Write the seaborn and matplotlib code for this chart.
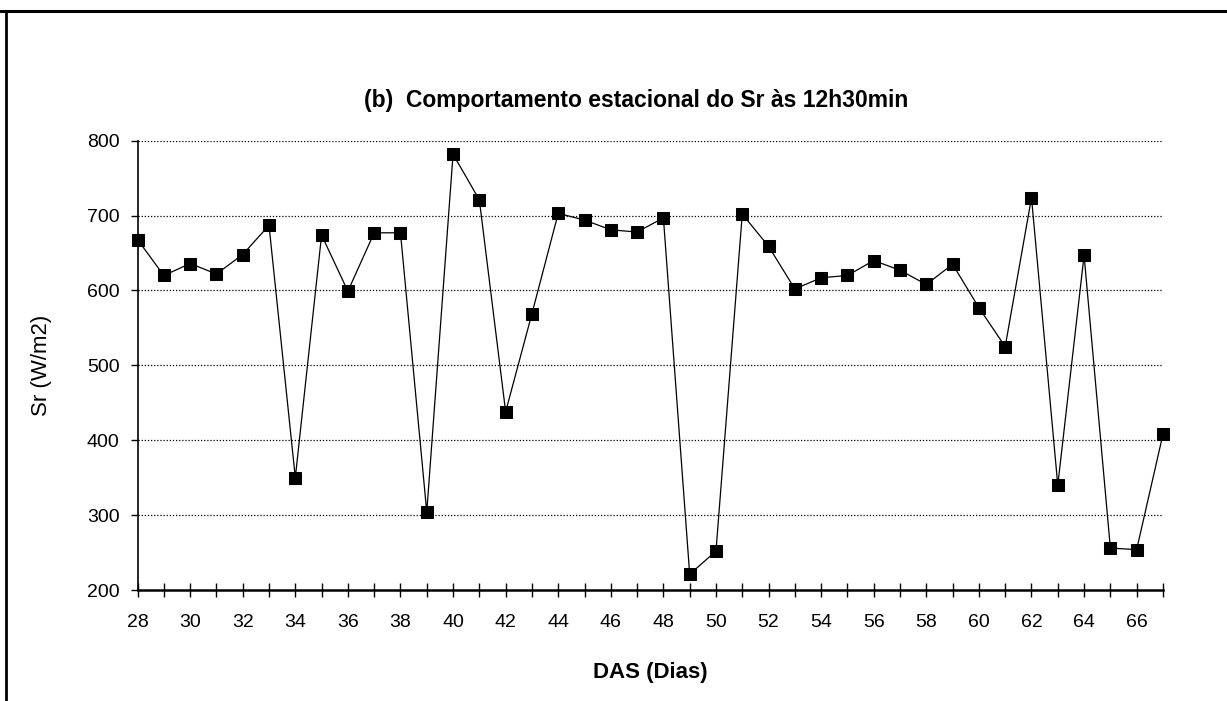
import matplotlib
matplotlib.use("Agg")
import matplotlib.pyplot as plt
from matplotlib.lines import Line2D
from matplotlib.ticker import MultipleLocator
import seaborn as sns
import pandas as pd

# ---- data ----
das = list(range(28, 68))
sr = [668, 620, 636, 622, 648, 687, 350, 674, 599, 677,
      677, 304, 782, 721, 438, 569, 703, 694, 681, 678,
      697, 221, 252, 702, 659, 602, 617, 620, 640, 627,
      608, 635, 577, 525, 724, 340, 647, 256, 254, 408]
title = "(b)  Comportamento estacional do Sr às 12h30min"
xlabel = "DAS (Dias)"
ylabel = "Sr (W/m2)"
yticks = [200, 300, 400, 500, 600, 700, 800]
xticks = list(range(28, 67, 2))

df = pd.DataFrame({"DAS": das, "Sr": sr})

sns.set_style("white", {"text.color": "black", "axes.labelcolor": "black",
                        "xtick.color": "black", "ytick.color": "black"})
plt.rcParams["font.family"] = ["Liberation Sans", "DejaVu Sans"]

fig = plt.figure(figsize=(12.27, 7.01), dpi=100)
ax = fig.add_axes([0.1121, 0.1583, 0.8357, 0.641])

sns.lineplot(data=df, x="DAS", y="Sr", ax=ax, color="black", linewidth=0.9,
             marker="s", markersize=9, markerfacecolor="black",
             markeredgecolor="black", clip_on=False, zorder=5)

ax.set_xlim(28, 67)
ax.set_ylim(200, 800)
ax.set_yticks(yticks)
ax.set_xticks(xticks)
ax.xaxis.set_minor_locator(MultipleLocator(1))

for y in yticks[1:]:
    ax.axhline(y, color="black", linestyle=(0, (1, 1.5)), linewidth=0.9, zorder=0)

for s in ["top", "right"]:
    ax.spines[s].set_visible(False)
ax.spines["left"].set_color("black")
ax.spines["left"].set_linewidth(1.2)
ax.spines["bottom"].set_color("black")
ax.spines["bottom"].set_linewidth(1.8)

ax.tick_params(axis="x", which="both", direction="inout", length=10, width=1,
               color="black", labelcolor="black", pad=12, labelsize=14, bottom=True)
ax.tick_params(axis="x", which="minor", labelbottom=False)
ax.tick_params(axis="y", which="major", direction="out", length=5, width=1,
               color="black", labelcolor="black", pad=8, labelsize=14, left=True)

ax.set_xlabel(xlabel, fontsize=16, fontweight="bold", color="black")
ax.set_ylabel(ylabel, fontsize=16, color="black")
ax.xaxis.set_label_coords(0.5, -0.16)
ax.yaxis.set_label_coords(-0.083, 0.5)

fig.text(0.5185, 0.856, title, ha="center", va="center", fontsize=16.5,
         fontweight="bold", color="black")

# outer frame (top and left edges of the scanned figure box)
fig.add_artist(Line2D([0, 1], [1 - 11 / 701, 1 - 11 / 701], transform=fig.transFigure,
                      color="black", linewidth=2.2))
fig.add_artist(Line2D([6 / 1227, 6 / 1227], [0, 1 - 11 / 701], transform=fig.transFigure,
                      color="black", linewidth=2.0))

fig.savefig("out.png", dpi=100)
